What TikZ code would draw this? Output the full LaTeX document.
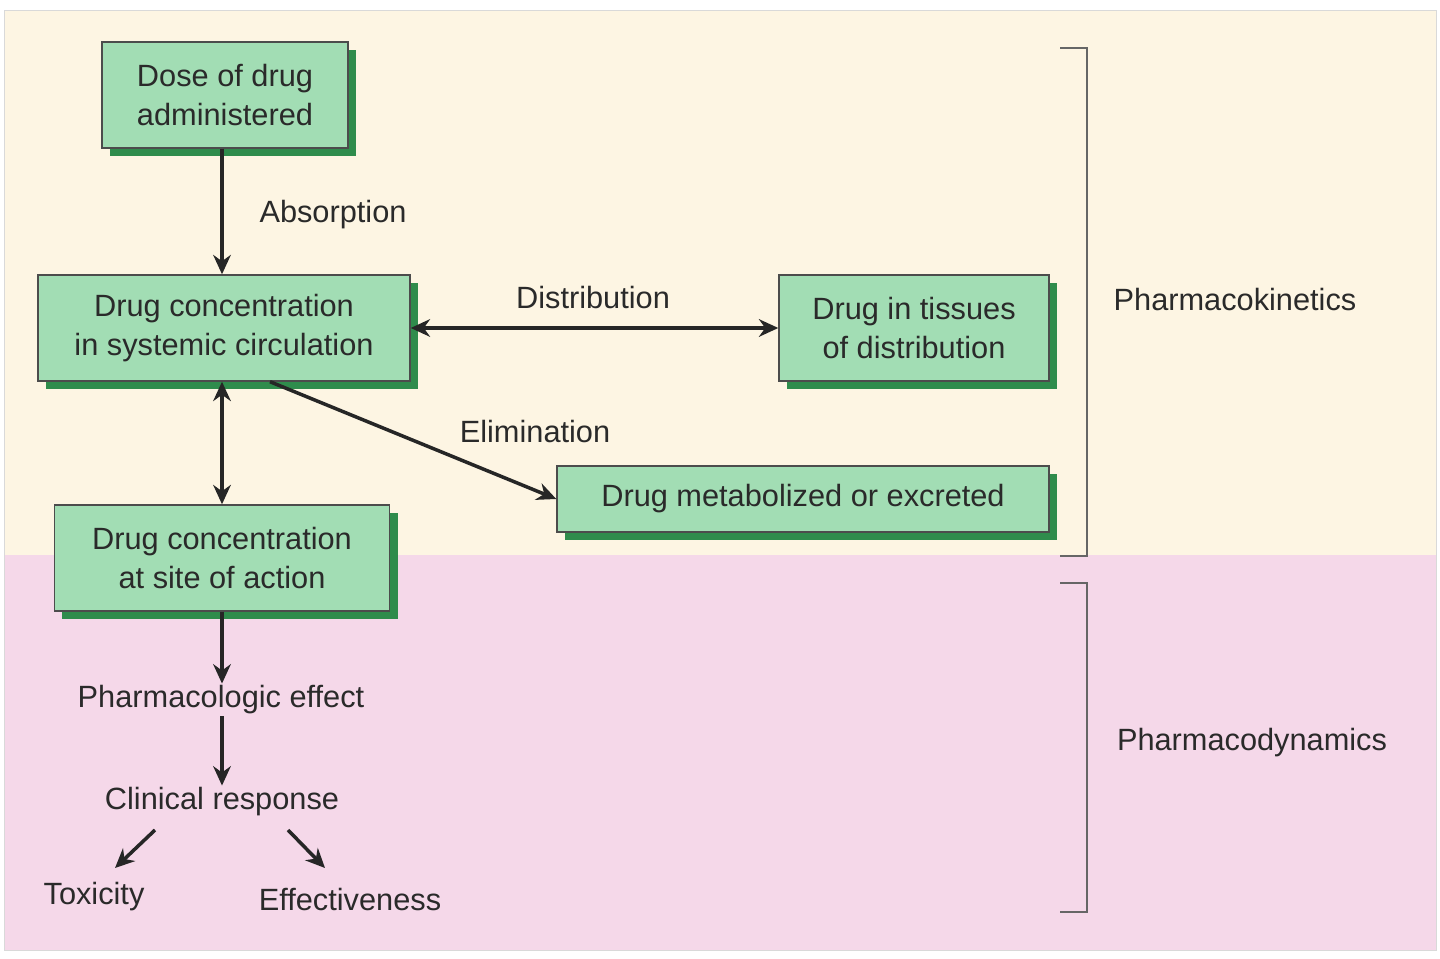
\documentclass[tikz,border=0pt]{standalone}
\usepackage{fontspec}
\setmainfont{Liberation Sans}
\usetikzlibrary{shadows,arrows.meta}
\definecolor{cream}{HTML}{FDF5E3}
\definecolor{pinkbg}{HTML}{F5D8E9}
\definecolor{boxg}{HTML}{A2DDB4}
\definecolor{shad}{HTML}{2F8C4C}
\definecolor{txt}{HTML}{2A2A2A}
\begin{document}
\begin{tikzpicture}[x=0.02cm,y=-0.02cm,
  box/.style={draw=black!70,line width=0.8pt,fill=boxg,align=center,inner sep=0pt,
    drop shadow={shadow xshift=0.16cm,shadow yshift=-0.16cm,fill=shad,opacity=1},
    font=\fontsize{17.5}{22}\selectfont,text=txt},
  lab/.style={font=\fontsize{17.5}{22}\selectfont,text=txt,inner sep=1pt},
  arr/.style={-{Stealth[length=11pt,width=10pt]},line width=2pt,draw=black!85},
  darr/.style={{Stealth[length=11pt,width=10pt]}-{Stealth[length=11pt,width=10pt]},line width=2pt,draw=black!85},
  brk/.style={line width=0.9pt,draw=black!60}]
\useasboundingbox (0,0) rectangle (1440,959);
\fill[white] (0,0) rectangle (1440,959);
\fill[cream] (4,10) rectangle (1436,555);
\fill[pinkbg] (4,555) rectangle (1436,950);
\draw[black!15] (4,10) rectangle (1436,950);
\node[box,minimum width=246*0.02cm,minimum height=106*0.02cm] (dose) at (225,95) {Dose of drug\\administered};
\node[box,minimum width=372*0.02cm,minimum height=106*0.02cm] (conc) at (224,328) {Drug concentration\\in systemic circulation};
\node[box,minimum width=270*0.02cm,minimum height=106*0.02cm] (tis) at (914,328) {Drug in tissues\\of distribution};
\node[box,minimum width=492*0.02cm,minimum height=66*0.02cm] (met) at (803,499) {Drug metabolized or excreted};
\node[box,minimum width=335*0.02cm,minimum height=106*0.02cm] (site) at (222,558) {Drug concentration\\at site of action};
\node[lab] (abs) at (333,215) {Absorption};
\node[lab] (dist) at (593,298) {Distribution};
\node[lab] (elim) at (535,432) {Elimination};
\node[lab] (eff) at (221,700) {Pharmacologic effect};
\node[lab] (clin) at (222,802) {Clinical response};
\node[lab] (tox) at (94,897) {Toxicity};
\node[lab] (effv) at (350,900) {Effectiveness};
\node[lab] (pk) at (1235,300) {Pharmacokinetics};
\node[lab] (pd) at (1252,743) {Pharmacodynamics};
\draw[arr] (dose.south -| 222,0) -- (conc.north -| 222,0);
\draw[darr] (conc.east) -- (tis.west);
\draw[arr] (conc.south -| 270,0) -- (met.west);
\draw[darr] (conc.south -| 222,0) -- (site.north -| 222,0);
\draw[arr] (site.south -| 222,0) -- (eff.north -| 222,0);
\draw[arr] (eff.south -| 222,0) -- (clin.north -| 222,0);
\coordinate (c1) at (155,830); \coordinate (c2) at (288,830);
\coordinate (t1) at (115,868); \coordinate (t2) at (325,868);
\draw[arr] (c1) -- (t1);
\draw[arr] (c2) -- (t2);
\coordinate (b1) at (1060,48); \coordinate (b2) at (1060,556);
\draw[brk] (b1) -- (1087,48) -- (1087,556) -- (b2);
\coordinate (b3) at (1060,583); \coordinate (b4) at (1060,912);
\draw[brk] (b3) -- (1087,583) -- (1087,912) -- (b4);
\end{tikzpicture}
\end{document}
